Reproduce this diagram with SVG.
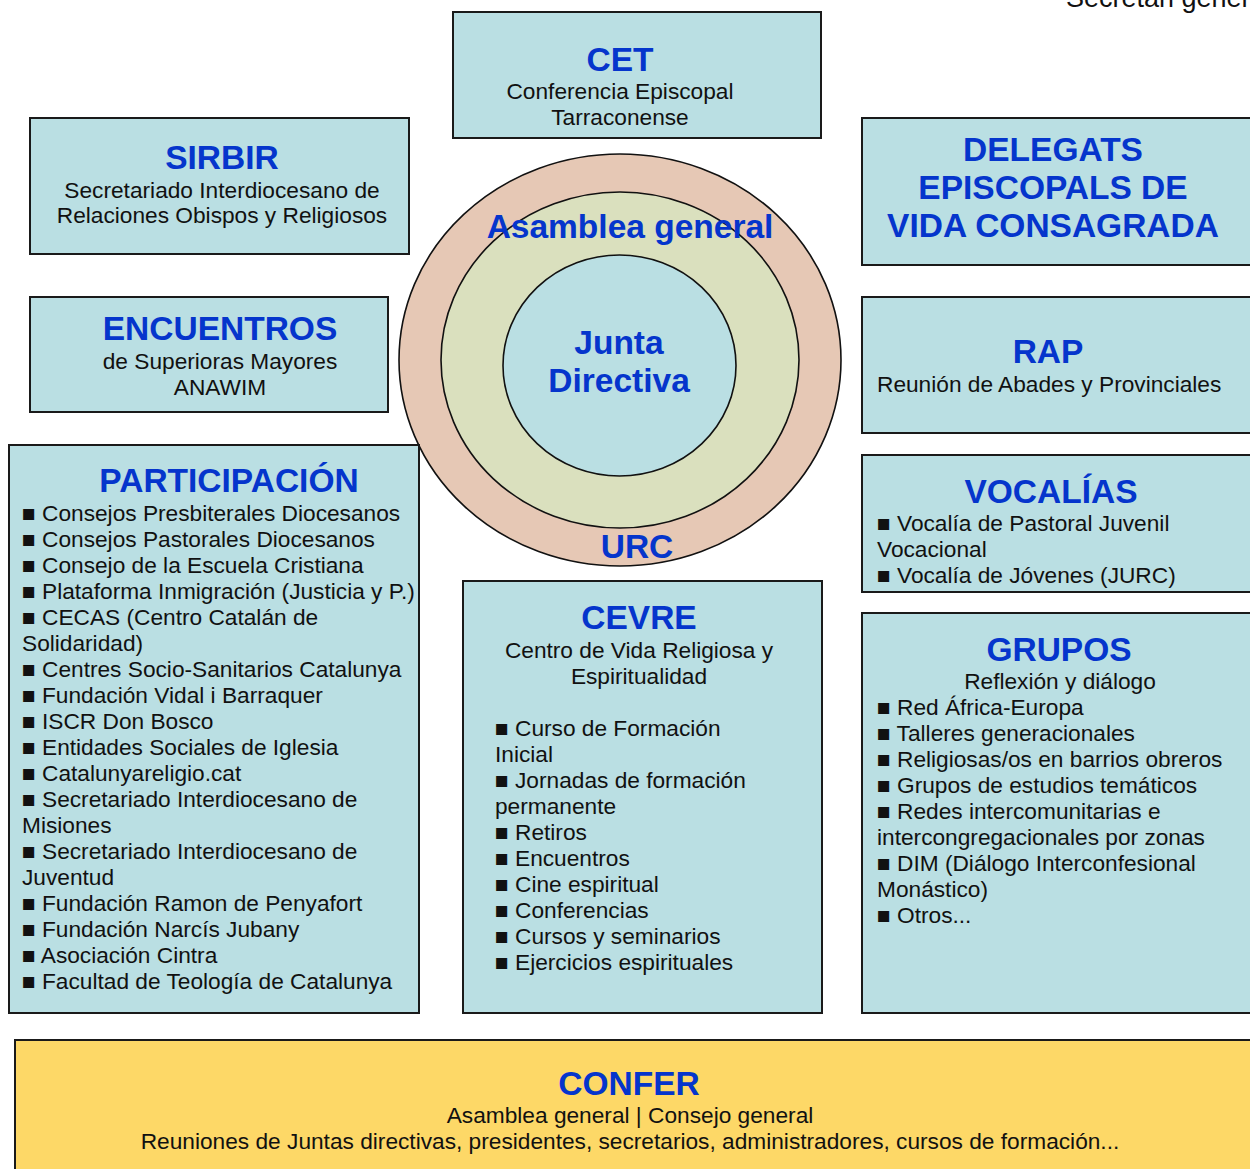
<svg xmlns="http://www.w3.org/2000/svg" width="1250" height="1169" viewBox="0 0 1250 1169">
<style>
.box{fill:#BADFE3;stroke:#1a1a1a;stroke-width:2}
.t{font-family:"Liberation Sans",Arial,sans-serif;font-weight:bold;font-size:33.5px;fill:#0535CC;text-anchor:middle}
.b{font-family:"Liberation Sans",Arial,sans-serif;font-size:22.7px;fill:#111}
.c{text-anchor:middle}
</style>
<rect width="1250" height="1169" fill="#ffffff"/>
<text class="b" x="1066" y="7" style="font-size:27px">Secretari general</text>
<g id="circles">
<ellipse cx="620" cy="360" rx="221" ry="206" fill="#E6C8B5" stroke="#111" stroke-width="1.6"/>
<ellipse cx="620" cy="360" rx="179" ry="168" fill="#DAE0BE" stroke="#111" stroke-width="1.6"/>
<ellipse cx="619.5" cy="365.5" rx="116.5" ry="110.5" fill="#BADFE3" stroke="#111" stroke-width="1.6"/>
<text class="t" x="630" y="238">Asamblea general</text>
<text class="t" x="619" y="354">Junta</text>
<text class="t" x="619" y="392">Directiva</text>
<text class="t" x="637" y="558">URC</text>
</g>
<g id="cet">
<rect class="box" x="453" y="12" width="368" height="126"/>
<text class="t" x="620" y="71">CET</text>
<text class="b c" x="620" y="99">Conferencia Episcopal</text>
<text class="b c" x="620" y="125">Tarraconense</text>
</g>
<g id="sirbir">
<rect class="box" x="30" y="118" width="379" height="136"/>
<text class="t" x="222" y="169">SIRBIR</text>
<text class="b c" x="222" y="198">Secretariado Interdiocesano de</text>
<text class="b c" x="222" y="223">Relaciones Obispos y Religiosos</text>
</g>
<g id="encuentros">
<rect class="box" x="30" y="297" width="358" height="115"/>
<text class="t" x="220" y="340">ENCUENTROS</text>
<text class="b c" x="220" y="369">de Superioras Mayores</text>
<text class="b c" x="220" y="395">ANAWIM</text>
</g>
<g id="delegats">
<rect class="box" x="862" y="118" width="400" height="147"/>
<text class="t" x="1053" y="161">DELEGATS</text>
<text class="t" x="1053" y="199">EPISCOPALS DE</text>
<text class="t" x="1053" y="237">VIDA CONSAGRADA</text>
</g>
<g id="rap">
<rect class="box" x="862" y="297" width="400" height="136"/>
<text class="t" x="1048" y="363">RAP</text>
<text class="b" x="877" y="392">Reunión de Abades y Provinciales</text>
</g>
<g id="vocalias">
<rect class="box" x="862" y="455" width="400" height="137"/>
<text class="t" x="1051" y="503">VOCALÍAS</text>
<text class="b" x="877" y="531">■ Vocalía de Pastoral Juvenil</text>
<text class="b" x="877" y="557">Vocacional</text>
<text class="b" x="877" y="583">■ Vocalía de Jóvenes (JURC)</text>
</g>
<g id="participacion">
<rect class="box" x="9" y="445" width="410" height="568"/>
<text class="t" x="229" y="492">PARTICIPACIÓN</text>
<text class="b" x="22" y="521">■ Consejos Presbiterales Diocesanos</text>
<text class="b" x="22" y="547">■ Consejos Pastorales Diocesanos</text>
<text class="b" x="22" y="573">■ Consejo de la Escuela Cristiana</text>
<text class="b" x="22" y="599">■ Plataforma Inmigración (Justicia y P.)</text>
<text class="b" x="22" y="625">■ CECAS (Centro Catalán de</text>
<text class="b" x="22" y="651">Solidaridad)</text>
<text class="b" x="22" y="677">■ Centres Socio-Sanitarios Catalunya</text>
<text class="b" x="22" y="703">■ Fundación Vidal i Barraquer</text>
<text class="b" x="22" y="729">■ ISCR Don Bosco</text>
<text class="b" x="22" y="755">■ Entidades Sociales de Iglesia</text>
<text class="b" x="22" y="781">■ Catalunyareligio.cat</text>
<text class="b" x="22" y="807">■ Secretariado Interdiocesano de</text>
<text class="b" x="22" y="833">Misiones</text>
<text class="b" x="22" y="859">■ Secretariado Interdiocesano de</text>
<text class="b" x="22" y="885">Juventud</text>
<text class="b" x="22" y="911">■ Fundación Ramon de Penyafort</text>
<text class="b" x="22" y="937">■ Fundación Narcís Jubany</text>
<text class="b" x="22" y="963">■ Asociación Cintra</text>
<text class="b" x="22" y="989">■ Facultad de Teología de Catalunya</text>
</g>
<g id="cevre">
<rect class="box" x="463" y="581" width="359" height="432"/>
<text class="t" x="639" y="629">CEVRE</text>
<text class="b c" x="639" y="658">Centro de Vida Religiosa y</text>
<text class="b c" x="639" y="684">Espiritualidad</text>
<text class="b" x="495" y="736">■ Curso de Formación</text>
<text class="b" x="495" y="762">Inicial</text>
<text class="b" x="495" y="788">■ Jornadas de formación</text>
<text class="b" x="495" y="814">permanente</text>
<text class="b" x="495" y="840">■ Retiros</text>
<text class="b" x="495" y="866">■ Encuentros</text>
<text class="b" x="495" y="892">■ Cine espiritual</text>
<text class="b" x="495" y="918">■ Conferencias</text>
<text class="b" x="495" y="944">■ Cursos y seminarios</text>
<text class="b" x="495" y="970">■ Ejercicios espirituales</text>
</g>
<g id="grupos">
<rect class="box" x="862" y="613" width="400" height="400"/>
<text class="t" x="1059" y="661">GRUPOS</text>
<text class="b c" x="1060" y="689">Reflexión y diálogo</text>
<text class="b" x="877" y="715">■ Red África-Europa</text>
<text class="b" x="877" y="741">■ Talleres generacionales</text>
<text class="b" x="877" y="767">■ Religiosas/os en barrios obreros</text>
<text class="b" x="877" y="793">■ Grupos de estudios temáticos</text>
<text class="b" x="877" y="819">■ Redes intercomunitarias e</text>
<text class="b" x="877" y="845">intercongregacionales por zonas</text>
<text class="b" x="877" y="871">■ DIM (Diálogo Interconfesional</text>
<text class="b" x="877" y="897">Monástico)</text>
<text class="b" x="877" y="923">■ Otros...</text>
</g>
<g id="confer">
<rect x="15" y="1040" width="1250" height="140" fill="#FDD867" stroke="#1a1a1a" stroke-width="2"/>
<text class="t" x="629" y="1095">CONFER</text>
<text class="b c" x="630" y="1123">Asamblea general | Consejo general</text>
<text class="b c" x="630" y="1149">Reuniones de Juntas directivas, presidentes, secretarios, administradores, cursos de formación...</text>
</g>
<g id="connectors"></g>
</svg>
